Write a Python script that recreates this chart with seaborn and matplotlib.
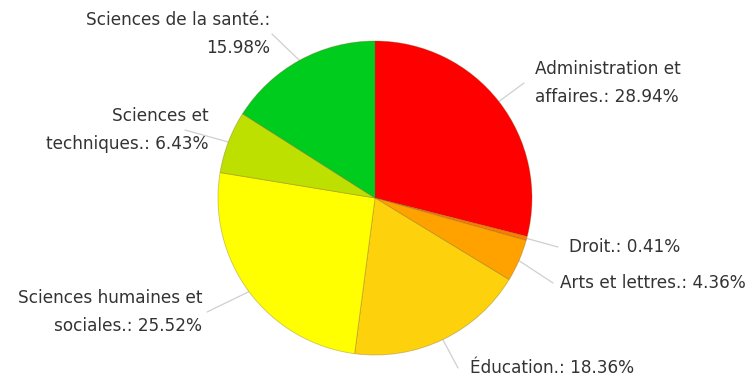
import numpy as np
import matplotlib
matplotlib.use("Agg")
import matplotlib.pyplot as plt
import seaborn as sns

# Répartition des inscriptions par domaine d'études
domaines = [
    "Administration et\naffaires.",
    "Droit.",
    "Arts et lettres.",
    "Éducation.",
    "Sciences humaines et\nsociales.",
    "Sciences et\ntechniques.",
    "Sciences de la santé.",
]
pourcentages = [28.94, 0.41, 4.36, 18.36, 25.52, 6.43, 15.98]
separateurs = [": ", ": ", ": ", ": ", ": ", ": ", ":\n"]
couleurs = ["#ff0000", "#ff7a00", "#ffa200", "#fdd20c", "#ffff00", "#bde000", "#00cc1e"]

sns.set_theme(style="white")
plt.rcParams["font.family"] = ["DejaVu Sans"]

W, H = 756, 379
fig = plt.figure(figsize=(W / 100, H / 100), dpi=100)
ax = fig.add_axes([0, 0, 1, 1])

# centre et rayon du disque, en pixels (origine en haut à gauche)
cx, cy, r = 375, 198, 157
wedges, _ = ax.pie(
    pourcentages,
    colors=couleurs,
    startangle=90,
    counterclock=False,
    center=(cx, H - cy),
    radius=r,
    frame=True,
    wedgeprops=dict(linewidth=0.6, edgecolor=(0.45, 0.35, 0.1, 0.35)),
)
ax.set_xlim(0, W)
ax.set_ylim(0, H)
ax.set_aspect("equal")
ax.axis("off")

# Étiquettes : ancrage, alignement, coude du trait de rappel
etiquettes = [
    (535, 83, "left", (524, 83)),
    (569, 247, "left", (558, 247)),
    (560, 283, "left", (553, 283)),
    (470, 368, "left", (458, 368)),
    (202, 312, "right", (207, 312)),
    (209, 130, "right", (185, 130)),
    (270, 34, "right", (272, 34)),
]

texte_couleur = "#333333"
cum = np.cumsum([0] + pourcentages)
for i, (nom, p) in enumerate(zip(domaines, pourcentages)):
    lx, ly, ha, coude = etiquettes[i]
    label = f"{nom}{separateurs[i]}{p:.2f}%"
    ax.text(lx, H - ly, label, ha=ha, va="center", fontsize=12.2,
            color=texte_couleur, linespacing=1.7)
    # point sur le bord de la part (sens horaire depuis le haut)
    a = np.deg2rad((cum[i] + p / 2) / 100 * 360)
    ex, ey = cx + r * np.sin(a), cy - r * np.cos(a)
    ax.plot([ex, coude[0]], [H - ey, H - coude[1]], color="#cfcfcf", lw=0.9,
            solid_capstyle="round", zorder=0)

fig.savefig("out.png", dpi=100)
